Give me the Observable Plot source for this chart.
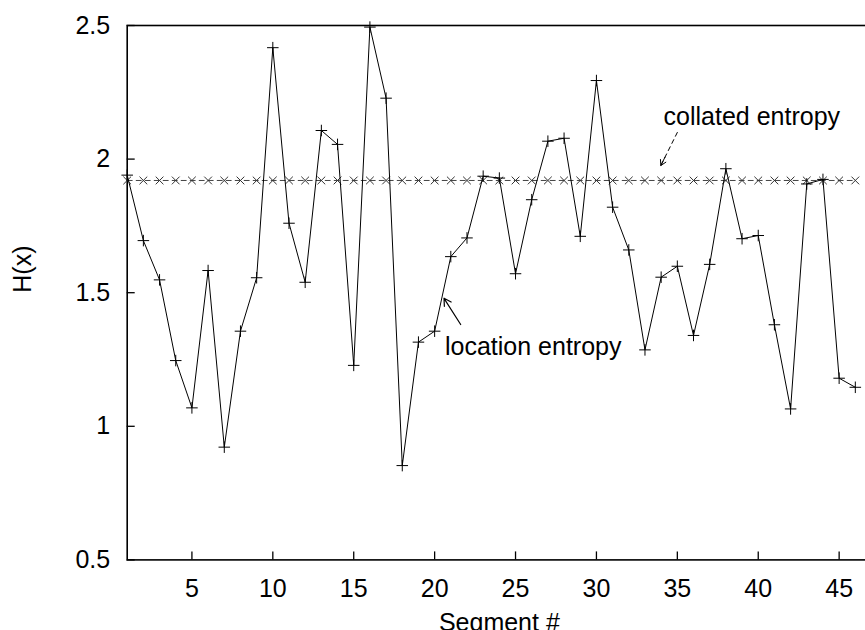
<!DOCTYPE html>
<html>
<head>
<meta charset="utf-8">
<script src="https://cdn.jsdelivr.net/npm/d3@7"></script>
<script src="https://cdn.jsdelivr.net/npm/@observablehq/plot@0.6"></script>
<style>
  html, body { margin: 0; padding: 0; background: #fff; overflow: hidden; }
  #chart svg { display: block; max-width: none !important; }
</style>
</head>
<body>
<div id="chart"></div>
<script>
// Segment numbers along the x axis
const segments = [
  1, 2, 3, 4, 5, 6, 7, 8, 9, 10,
  11, 12, 13, 14, 15, 16, 17, 18, 19, 20,
  21, 22, 23, 24, 25, 26, 27, 28, 29, 30,
  31, 32, 33, 34, 35, 36, 37, 38, 39, 40,
  41, 42, 43, 44, 45, 46
];

// Location entropy H(x) per segment
const locationEntropy = [
  1.94, 1.695, 1.548, 1.246, 1.069, 1.583, 0.922, 1.356, 1.556, 2.417,
  1.76, 1.539, 2.107, 2.055, 1.228, 2.494, 2.228, 0.853, 1.315, 1.356,
  1.635, 1.705, 1.936, 1.929, 1.571, 1.848, 2.067, 2.078, 1.711, 2.294,
  1.82, 1.66, 1.286, 1.558, 1.599, 1.34, 1.606, 1.964, 1.702, 1.714,
  1.38, 1.065, 1.907, 1.924, 1.18, 1.146
];

// Collated entropy (same value for every segment)
const collatedEntropy = [
  1.92, 1.92, 1.92, 1.92, 1.92, 1.92, 1.92, 1.92, 1.92, 1.92,
  1.92, 1.92, 1.92, 1.92, 1.92, 1.92, 1.92, 1.92, 1.92, 1.92,
  1.92, 1.92, 1.92, 1.92, 1.92, 1.92, 1.92, 1.92, 1.92, 1.92,
  1.92, 1.92, 1.92, 1.92, 1.92, 1.92, 1.92, 1.92, 1.92, 1.92,
  1.92, 1.92, 1.92, 1.92, 1.92, 1.92
];

// Axis ticks
const xTicks = [5, 10, 15, 20, 25, 30, 35, 40, 45];
const yTicks = [0.5, 1, 1.5, 2, 2.5];
const yTickLabels = ["0.5", "1", "1.5", "2", "2.5"];

// Annotation labels and the arrows pointing at each series
const annotationText = ["collated entropy", "location entropy"];
const annotationX = [34.15, 20.64];
const annotationY = [2.157, 1.296];
const arrowFrom = [[35.01, 2.101], [21.61, 1.381]];
const arrowTo = [[33.98, 1.976], [20.58, 1.479]];

const locationRows = segments.map((s, i) => ({segment: s, value: locationEntropy[i]}));
const collatedRows = segments.map((s, i) => ({segment: s, value: collatedEntropy[i]}));
const labelRows = annotationText.map((t, i) => ({text: t, x: annotationX[i], y: annotationY[i]}));
const arrowRows = arrowFrom.map((f, i) => ({x1: f[0], y1: f[1], x2: arrowTo[i][0], y2: arrowTo[i][1]}));

const chart = Plot.plot({
  width: 891,
  height: 650,
  marginLeft: 126.7,
  marginRight: 20,
  marginTop: 25,
  marginBottom: 90.6,
  style: {
    fontFamily: "'Liberation Sans', Arial, Helvetica, sans-serif",
    fontSize: "25px",
    background: "#fff",
    color: "#000"
  },
  x: {domain: [1, 47]},
  y: {domain: [0.5, 2.5]},
  marks: [
    // inward tick marks
    Plot.axisY(yTicks, {anchor: "left", tickSize: 8, dx: 8, text: null, label: null, strokeWidth: 1.3}),
    Plot.axisX(xTicks, {anchor: "bottom", tickSize: 8, dy: -8, text: null, label: null, strokeWidth: 1.3}),
    // tick labels
    Plot.axisY(yTicks, {anchor: "left", tickSize: 0, tickPadding: 17, tickFormat: (d, i) => yTickLabels[i], label: null}),
    Plot.axisX(xTicks, {anchor: "bottom", tickSize: 0, tickPadding: 19, label: null}),
    Plot.frame({stroke: "#000", strokeWidth: 1.6}),
    // collated entropy: dashed line with × markers
    Plot.line(collatedRows, {x: "segment", y: "value", stroke: "#444", strokeWidth: 1, strokeDasharray: "5,4"}),
    Plot.dot(collatedRows, {x: "segment", y: "value", symbol: "times", r: 3.6, stroke: "#333", strokeWidth: 1}),
    // location entropy: solid line with + markers
    Plot.line(locationRows, {x: "segment", y: "value", stroke: "#000", strokeWidth: 1}),
    Plot.dot(locationRows, {x: "segment", y: "value", symbol: "plus", r: 3.8, stroke: "#000", strokeWidth: 1}),
    // annotations
    Plot.text(labelRows, {x: "x", y: "y", text: "text", textAnchor: "start", fill: "#000"}),
    Plot.link(arrowRows.slice(0, 1), {x1: "x1", y1: "y1", x2: "x2", y2: "y2", stroke: "#000", strokeWidth: 1, strokeDasharray: "5,3"}),
    Plot.arrow(arrowRows.slice(0, 1), {x1: "x1", y1: "y1", x2: "x2", y2: "y2", stroke: "#000", strokeWidth: 1, headLength: 9, insetStart: 28}),
    Plot.arrow(arrowRows.slice(1), {x1: "x1", y1: "y1", x2: "x2", y2: "y2", stroke: "#000", strokeWidth: 1.2, headLength: 10}),
    // axis titles
    Plot.text(["H(x)"], {frameAnchor: "left", dx: -104, rotate: -90, lineAnchor: "middle", fill: "#000"}),
    Plot.text(["Segment #"], {frameAnchor: "bottom", dy: 63, lineAnchor: "middle", fill: "#000"})
  ]
});

document.getElementById("chart").appendChild(chart);
</script>
</body>
</html>
